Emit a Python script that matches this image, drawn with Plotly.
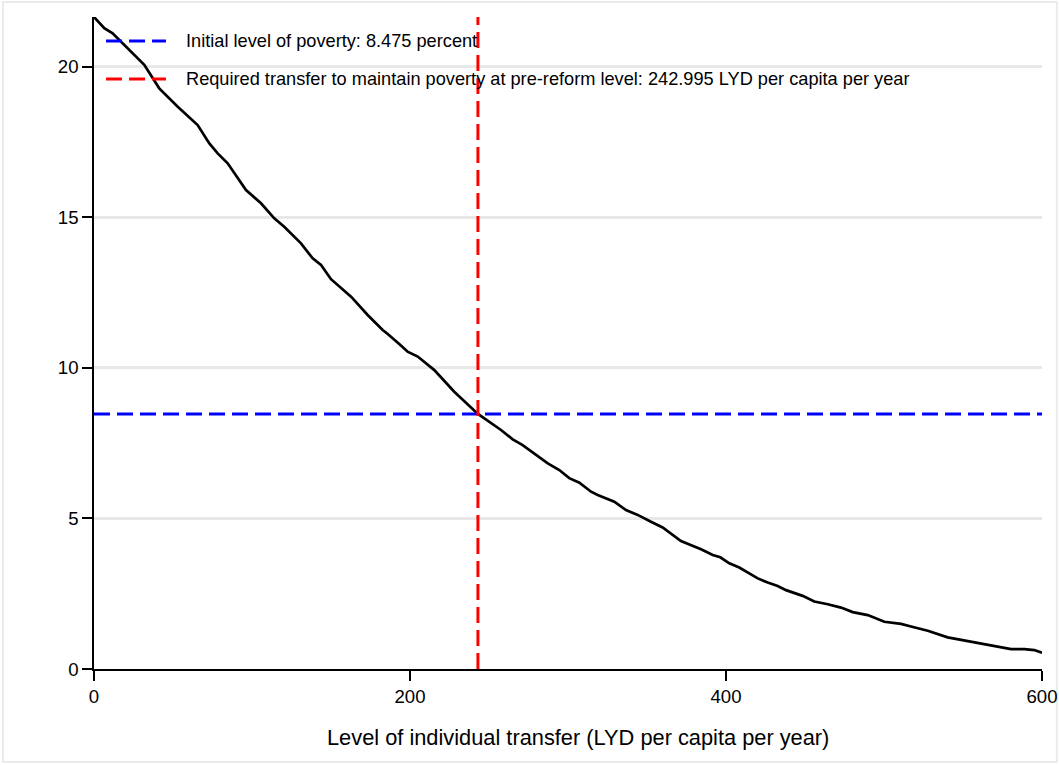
import plotly.graph_objects as go

# Data
transfer = [0, 6.5, 11.8, 17.1, 31.8, 41.3, 46.6, 53, 65.6, 73, 78.3, 84.6, 96.2,
            105.7, 114.1, 120.4, 131, 138.4, 143.7, 150, 162.7, 173.2, 182.7, 185.9,
            193.2, 198.5, 204.9, 215.4, 228, 243, 257.6, 265, 271.3, 287.2, 294.5,
            300.8, 307.2, 314.6, 318.8, 329.3, 336.7, 344.1, 352.5, 359.9, 371.5,
            384.2, 391.6, 396.4, 402.1, 408.4, 420.1, 426.4, 432.7, 438, 448.5,
            455.9, 464.4, 472.8, 480.2, 489.7, 500.2, 510.8, 517.1, 527.7, 540.3,
            553, 563.5, 569.8, 580.4, 588.8, 595.1, 600]
poverty = [21.66, 21.29, 21.12, 20.84, 20.07, 19.29, 19.01, 18.68, 18.07, 17.46,
           17.13, 16.80, 15.91, 15.47, 14.97, 14.69, 14.14, 13.64, 13.42, 12.95,
           12.37, 11.76, 11.26, 11.13, 10.80, 10.54, 10.38, 9.93, 9.21, 8.475, 7.94,
           7.63, 7.44, 6.83, 6.61, 6.34, 6.19, 5.89, 5.78, 5.56, 5.28, 5.12, 4.89,
           4.70, 4.25, 3.98, 3.79, 3.71, 3.51, 3.37, 3.01, 2.87, 2.76, 2.62, 2.43,
           2.24, 2.15, 2.04, 1.89, 1.79, 1.57, 1.50, 1.41, 1.27, 1.05, 0.93, 0.82,
           0.77, 0.66, 0.66, 0.63, 0.54]

initial_poverty = 8.475
required_transfer = 242.995
x_range = [0, 600]
y_top = 21.66

x_ticks = [0, 200, 400, 600]
y_ticks = [0, 5, 10, 15, 20]

x_title = "Level of individual transfer (LYD per capita per year)"
legend_labels = [
    "Initial level of poverty: 8.475 percent",
    "Required transfer to maintain poverty at pre-reform level: 242.995 LYD per capita per year",
]
legend_colors = ["#0000ff", "#ff0000"]

FONT = "Liberation Sans, Arial, sans-serif"
DASH = "16px,7px"

W, H = 1070, 765
ML, MR, MT, MB = 94, 18, 17, 96
PW = W - ML - MR
PH = H - MT - MB

fig = go.Figure()

fig.add_trace(go.Scatter(
    x=transfer, y=poverty, mode="lines",
    line=dict(color="black", width=2.7),
    showlegend=False, hoverinfo="x+y",
))

fig.add_trace(go.Scatter(
    x=x_range, y=[initial_poverty, initial_poverty], mode="lines",
    line=dict(color=legend_colors[0], width=3, dash=DASH),
    name=legend_labels[0], showlegend=False,
))

fig.add_trace(go.Scatter(
    x=[required_transfer, required_transfer], y=[0, y_top], mode="lines",
    line=dict(color=legend_colors[1], width=3, dash=DASH),
    name=legend_labels[1], showlegend=False,
))

# Manual legend (to match sample length)
legend_y = [0.9632, 0.9049]
for lab, col, ly in zip(legend_labels, legend_colors, legend_y):
    fig.add_shape(type="line", xref="paper", yref="paper",
                  x0=0.0127, x1=0.0759, y0=ly, y1=ly,
                  line=dict(color=col, width=3, dash=DASH))
    fig.add_annotation(xref="paper", yref="paper", x=0.0949, y=ly,
                       text=lab, showarrow=False, xanchor="left", yanchor="middle",
                       font=dict(family=FONT, size=18.2, color="black"))

# x-axis title (placed as in the reference, slightly right of centre)
fig.add_annotation(xref="paper", yref="paper", x=0.5104, y=-0.1043,
                   text=x_title, showarrow=False, xanchor="center", yanchor="middle",
                   font=dict(family=FONT, size=21.8, color="black"))

# light outer frame
fig.add_shape(type="rect", xref="paper", yref="paper",
              x0=(2 - ML) / PW, x1=(W - 3 - ML) / PW,
              y0=-(H - MT - PH - 3) / PH, y1=(PH + MT - 2) / PH,
              line=dict(color="#ebebeb", width=2), layer="below")

fig.update_layout(
    width=W, height=H,
    margin=dict(l=ML, r=MR, t=MT, b=MB),
    paper_bgcolor="white", plot_bgcolor="white",
    font=dict(family=FONT, size=18, color="black"),
    showlegend=False,
    xaxis=dict(
        range=x_range, tickvals=x_ticks, ticks="outside", ticklen=10, tickwidth=1.5,
        tickcolor="black", showline=True, linecolor="black", linewidth=1.5,
        showgrid=False, zeroline=False,
        tickfont=dict(family=FONT, size=18.6, color="black"),
    ),
    yaxis=dict(
        range=[0, y_top], tickvals=y_ticks, ticks="outside", ticklen=10, tickwidth=1.5,
        tickcolor="black", showline=True, linecolor="black", linewidth=1.5,
        showgrid=True, gridcolor="#e8e8e8", gridwidth=2.5, zeroline=False,
        tickfont=dict(family=FONT, size=18.6, color="black"),
    ),
)

post = (
    "document.documentElement.style.margin='0';"
    "document.body.style.margin='0';"
    "document.body.style.overflow='hidden';"
)

fig.write_html("out.html", config={"displayModeBar": False}, post_script=post)
